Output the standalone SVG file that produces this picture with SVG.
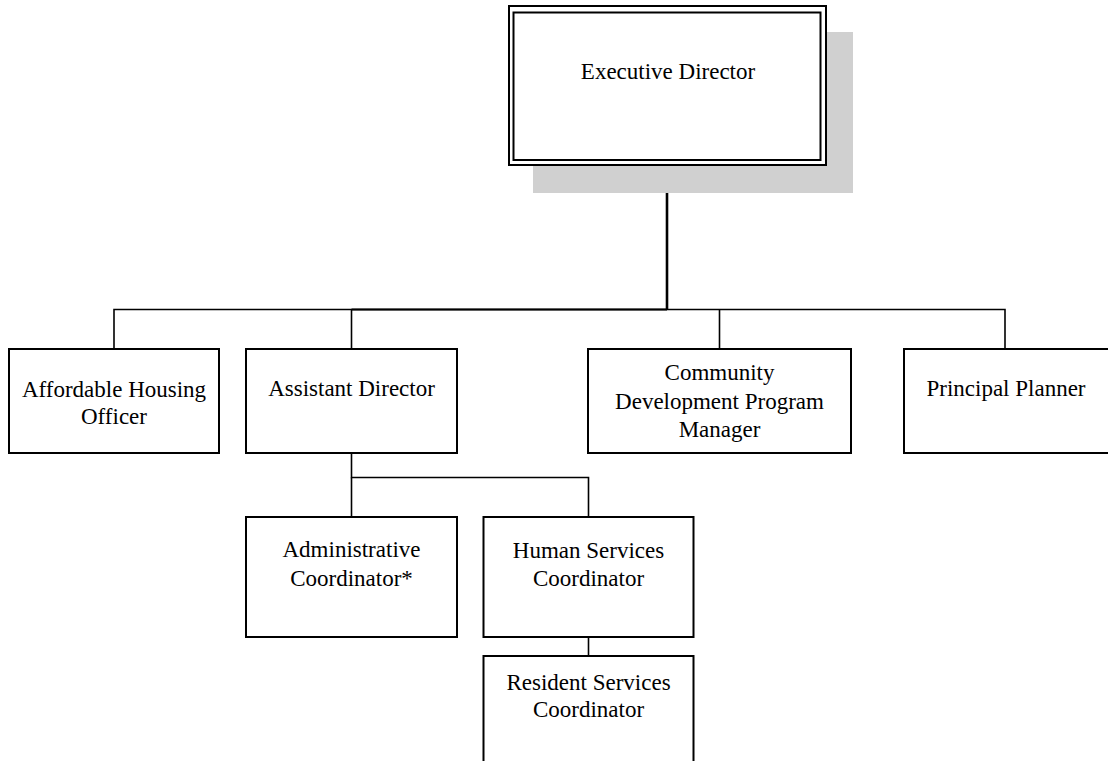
<svg xmlns="http://www.w3.org/2000/svg" width="1108" height="761" viewBox="0 0 1108 761">
  <style>
    .box { fill: #ffffff; stroke: #000000; stroke-width: 2; }
    .conn { fill: none; stroke: #000000; stroke-width: 1.6; }
    .trunk { fill: none; stroke: #000000; stroke-width: 2; }
    .main { fill: none; stroke: #000000; stroke-width: 2.6; }
    .label { font-family: "Liberation Serif", "Times New Roman", serif; font-size: 23px; fill: #000000; text-anchor: middle; }
  </style>
  <rect width="1108" height="761" fill="#ffffff"/>

  <!-- reporting lines -->
  <g id="connectors">
    <path class="main" d="M667 165 V309.5"/>
    <path class="conn" d="M114 349 V309.5 H1005 V349"/>
    <path class="trunk" d="M351.5 309.5 H667"/>
    <path class="conn" d="M351.5 309.5 V349"/>
    <path class="conn" d="M719.5 309.5 V349"/>
    <path class="conn" d="M351.5 453 V477.5 H588.5 V517"/>
    <path class="conn" d="M351.5 477.5 V517"/>
    <path class="conn" d="M588.5 637 V656"/>
  </g>

  <!-- top position with drop shadow and double frame -->
  <g id="executive-director">
    <rect x="533" y="32" width="320" height="161" fill="#d0d0d0"/>
    <rect x="509" y="6" width="317" height="159" fill="#ffffff" stroke="#000" stroke-width="2"/>
    <rect x="513.5" y="12.5" width="307" height="147.5" fill="none" stroke="#000" stroke-width="2"/>
    <text class="label" x="668" y="79">Executive Director</text>
  </g>

  <g id="affordable-housing-officer">
    <rect class="box" x="9" y="349" width="210" height="104"/>
    <text class="label" x="114" y="397">Affordable Housing</text>
    <text class="label" x="114" y="424">Officer</text>
  </g>

  <g id="assistant-director">
    <rect class="box" x="246" y="349" width="211" height="104"/>
    <text class="label" x="351.5" y="396">Assistant Director</text>
  </g>

  <g id="community-development-program-manager">
    <rect class="box" x="588" y="349" width="263" height="104"/>
    <text class="label" x="719.5" y="380">Community</text>
    <text class="label" x="719.5" y="409">Development Program</text>
    <text class="label" x="719.5" y="437">Manager</text>
  </g>

  <g id="principal-planner">
    <rect class="box" x="904" y="349" width="210" height="104"/>
    <text class="label" x="1006" y="396">Principal Planner</text>
  </g>

  <g id="administrative-coordinator">
    <rect class="box" x="246" y="517" width="211" height="120"/>
    <text class="label" x="351.5" y="557">Administrative</text>
    <text class="label" x="351.5" y="586">Coordinator*</text>
  </g>

  <g id="human-services-coordinator">
    <rect class="box" x="483.5" y="517" width="210" height="120"/>
    <text class="label" x="588.5" y="558">Human Services</text>
    <text class="label" x="588.5" y="586">Coordinator</text>
  </g>

  <g id="resident-services-coordinator">
    <rect class="box" x="483.5" y="656" width="210" height="120"/>
    <text class="label" x="588.5" y="690">Resident Services</text>
    <text class="label" x="588.5" y="717">Coordinator</text>
  </g>
</svg>
